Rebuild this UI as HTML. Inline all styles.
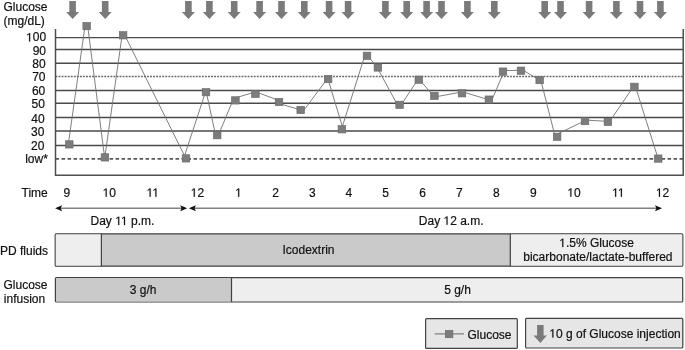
<!DOCTYPE html>
<html><head><meta charset="utf-8"><style>
html,body{margin:0;padding:0;background:#fff;width:685px;height:350px;overflow:hidden}
svg{display:block;-webkit-font-smoothing:antialiased;will-change:transform}
text{font-family:"Liberation Sans", sans-serif;font-size:12px;fill:#111;stroke:#111;stroke-width:0.2px}
.h{fill:none;stroke:none}
.g1{fill:#111;stroke:#111;stroke-width:34px}
</style></head><body>
<svg width="685" height="350" viewBox="0 0 685 350">
<line x1="55.5" y1="37.6" x2="683.2" y2="37.6" stroke="#4a4a4a" stroke-width="1.45"/>
<line x1="55.5" y1="49.5" x2="683.2" y2="49.5" stroke="#4a4a4a" stroke-width="1.45"/>
<line x1="55.5" y1="63.2" x2="683.2" y2="63.2" stroke="#4a4a4a" stroke-width="1.45"/>
<line x1="55.5" y1="76.5" x2="683.2" y2="76.5" stroke="#686868" stroke-width="1.3" stroke-dasharray="1.9 1.15"/>
<line x1="55.5" y1="90.5" x2="683.2" y2="90.5" stroke="#4a4a4a" stroke-width="1.45"/>
<line x1="55.5" y1="103.3" x2="683.2" y2="103.3" stroke="#4a4a4a" stroke-width="1.45"/>
<line x1="55.5" y1="117.5" x2="683.2" y2="117.5" stroke="#4a4a4a" stroke-width="1.45"/>
<line x1="55.5" y1="130.9" x2="683.2" y2="130.9" stroke="#4a4a4a" stroke-width="1.45"/>
<line x1="55.5" y1="145.4" x2="683.2" y2="145.4" stroke="#4a4a4a" stroke-width="1.45"/>
<line x1="55.5" y1="158.9" x2="683.2" y2="158.9" stroke="#5a5a5a" stroke-width="1.8" stroke-dasharray="3.6 2.4"/>
<path d="M55.5 29 V175.3 H683.2 V29" fill="none" stroke="#4e4e4e" stroke-width="1.5"/>
<text x="46.1" y="41.4" text-anchor="end"><tspan class="h">1</tspan>00</text>
<path class="g1" transform="translate(26.069 41.400) scale(0.005859 -0.005859)" d="M515 0V1237L197 1010V1180L530 1409H696V0Z"/>
<text x="46.0" y="54.6" text-anchor="end">90</text>
<text x="45.7" y="68.4" text-anchor="end">80</text>
<text x="45.5" y="81.2" text-anchor="end">70</text>
<text x="45.3" y="94.5" text-anchor="end">60</text>
<text x="44.9" y="108.2" text-anchor="end">50</text>
<text x="44.6" y="122.6" text-anchor="end">40</text>
<text x="44.4" y="135.5" text-anchor="end">30</text>
<text x="44.4" y="149.6" text-anchor="end">20</text>
<text x="25.2" y="163.0">low*</text>
<path fill="none" stroke="#707070" stroke-width="0.9" d="M85.0 26.1L68.3 144.4 M87.7 26.1L104.6 157.4 M104.8 157.4L122.1 35.3 M124.8 35.3L185.8 158.4 M183.7 158.4L205.4 92.3 M206.3 92.2L215.6 135.2 M218.4 135.2L232.8 100.5 M235.4 97.9L255.4 91.9 M255.4 91.8L279 100.4 M279 103.6L300.7 109.9 M304 110L327.1 79.1 M328 79.1L343.2 129.3 M341.5 129.3L364.7 55.9 M367.9 55.8L377.1 67.5 M377.2 67.5L397.4 104.8 M401.2 104.8L417.8 79.7 M419.6 79.7L433.4 95.9 M434.4 97L462 92 M462 91.7L489 99.8 M491.9 100L504 71.5 M503 70.6L520.8 70.3 M521 69L539.7 80.1 M540.8 80.1L555.2 136.8 M557.1 134.1L585 120.7 M585 120L607.9 121.4 M609.3 121.9L633.3 86.8 M635.5 86.8L658.1 158.6"/>
<rect x="65.50" y="140.75" width="7.6" height="7.3" fill="#7c7c7c" stroke="#666" stroke-width="0.6"/>
<rect x="82.90" y="22.45" width="7.6" height="7.3" fill="#7c7c7c" stroke="#666" stroke-width="0.6"/>
<rect x="101.10" y="153.75" width="7.6" height="7.3" fill="#7c7c7c" stroke="#666" stroke-width="0.6"/>
<rect x="119.30" y="31.65" width="7.6" height="7.3" fill="#7c7c7c" stroke="#666" stroke-width="0.6"/>
<rect x="182.20" y="154.75" width="7.6" height="7.3" fill="#7c7c7c" stroke="#666" stroke-width="0.6"/>
<rect x="202.20" y="88.55" width="7.6" height="7.3" fill="#7c7c7c" stroke="#666" stroke-width="0.6"/>
<rect x="213.40" y="131.55" width="7.6" height="7.3" fill="#7c7c7c" stroke="#666" stroke-width="0.6"/>
<rect x="231.60" y="96.75" width="7.6" height="7.3" fill="#7c7c7c" stroke="#666" stroke-width="0.6"/>
<rect x="251.60" y="90.25" width="7.6" height="7.3" fill="#7c7c7c" stroke="#666" stroke-width="0.6"/>
<rect x="275.20" y="98.35" width="7.6" height="7.3" fill="#7c7c7c" stroke="#666" stroke-width="0.6"/>
<rect x="296.90" y="106.35" width="7.6" height="7.3" fill="#7c7c7c" stroke="#666" stroke-width="0.6"/>
<rect x="324.30" y="75.45" width="7.6" height="7.3" fill="#7c7c7c" stroke="#666" stroke-width="0.6"/>
<rect x="338.10" y="125.65" width="7.6" height="7.3" fill="#7c7c7c" stroke="#666" stroke-width="0.6"/>
<rect x="363.20" y="52.15" width="7.6" height="7.3" fill="#7c7c7c" stroke="#666" stroke-width="0.6"/>
<rect x="374.10" y="63.85" width="7.6" height="7.3" fill="#7c7c7c" stroke="#666" stroke-width="0.6"/>
<rect x="395.80" y="101.15" width="7.6" height="7.3" fill="#7c7c7c" stroke="#666" stroke-width="0.6"/>
<rect x="415.00" y="76.05" width="7.6" height="7.3" fill="#7c7c7c" stroke="#666" stroke-width="0.6"/>
<rect x="430.60" y="92.25" width="7.6" height="7.3" fill="#7c7c7c" stroke="#666" stroke-width="0.6"/>
<rect x="458.20" y="89.65" width="7.6" height="7.3" fill="#7c7c7c" stroke="#666" stroke-width="0.6"/>
<rect x="485.10" y="95.95" width="7.6" height="7.3" fill="#7c7c7c" stroke="#666" stroke-width="0.6"/>
<rect x="499.20" y="67.95" width="7.6" height="7.3" fill="#7c7c7c" stroke="#666" stroke-width="0.6"/>
<rect x="517.20" y="67.05" width="7.6" height="7.3" fill="#7c7c7c" stroke="#666" stroke-width="0.6"/>
<rect x="535.90" y="76.45" width="7.6" height="7.3" fill="#7c7c7c" stroke="#666" stroke-width="0.6"/>
<rect x="553.30" y="133.15" width="7.6" height="7.3" fill="#7c7c7c" stroke="#666" stroke-width="0.6"/>
<rect x="581.20" y="117.45" width="7.6" height="7.3" fill="#7c7c7c" stroke="#666" stroke-width="0.6"/>
<rect x="604.10" y="118.25" width="7.6" height="7.3" fill="#7c7c7c" stroke="#666" stroke-width="0.6"/>
<rect x="630.60" y="83.15" width="7.6" height="7.3" fill="#7c7c7c" stroke="#666" stroke-width="0.6"/>
<rect x="654.40" y="154.95" width="7.6" height="7.3" fill="#7c7c7c" stroke="#666" stroke-width="0.6"/>
<path d="M69.30 1 H75.90 V12 H79.10 L72.60 19 L66.10 12 H69.30 Z" fill="#7a7a7a"/>
<path d="M101.90 1 H108.50 V12 H111.70 L105.20 19 L98.70 12 H101.90 Z" fill="#7a7a7a"/>
<path d="M185.10 1 H191.70 V12 H194.90 L188.40 19 L181.90 12 H185.10 Z" fill="#7a7a7a"/>
<path d="M206.10 1 H212.70 V12 H215.90 L209.40 19 L202.90 12 H206.10 Z" fill="#7a7a7a"/>
<path d="M230.90 1 H237.50 V12 H240.70 L234.20 19 L227.70 12 H230.90 Z" fill="#7a7a7a"/>
<path d="M256.30 1 H262.90 V12 H266.10 L259.60 19 L253.10 12 H256.30 Z" fill="#7a7a7a"/>
<path d="M278.20 1 H284.80 V12 H288.00 L281.50 19 L275.00 12 H278.20 Z" fill="#7a7a7a"/>
<path d="M301.00 1 H307.60 V12 H310.80 L304.30 19 L297.80 12 H301.00 Z" fill="#7a7a7a"/>
<path d="M325.80 1 H332.40 V12 H335.60 L329.10 19 L322.60 12 H325.80 Z" fill="#7a7a7a"/>
<path d="M344.80 1 H351.40 V12 H354.60 L348.10 19 L341.60 12 H344.80 Z" fill="#7a7a7a"/>
<path d="M382.10 1 H388.70 V12 H391.90 L385.40 19 L378.90 12 H382.10 Z" fill="#7a7a7a"/>
<path d="M403.40 1 H410.00 V12 H413.20 L406.70 19 L400.20 12 H403.40 Z" fill="#7a7a7a"/>
<path d="M423.30 1 H429.90 V12 H433.10 L426.60 19 L420.10 12 H423.30 Z" fill="#7a7a7a"/>
<path d="M438.20 1 H444.80 V12 H448.00 L441.50 19 L435.00 12 H438.20 Z" fill="#7a7a7a"/>
<path d="M464.10 1 H470.70 V12 H473.90 L467.40 19 L460.90 12 H464.10 Z" fill="#7a7a7a"/>
<path d="M491.00 1 H497.60 V12 H500.80 L494.30 19 L487.80 12 H491.00 Z" fill="#7a7a7a"/>
<path d="M541.40 1 H548.00 V12 H551.20 L544.70 19 L538.20 12 H541.40 Z" fill="#7a7a7a"/>
<path d="M557.20 1 H563.80 V12 H567.00 L560.50 19 L554.00 12 H557.20 Z" fill="#7a7a7a"/>
<path d="M585.80 1 H592.40 V12 H595.60 L589.10 19 L582.60 12 H585.80 Z" fill="#7a7a7a"/>
<path d="M613.10 1 H619.70 V12 H622.90 L616.40 19 L609.90 12 H613.10 Z" fill="#7a7a7a"/>
<path d="M636.70 1 H643.30 V12 H646.50 L640.00 19 L633.50 12 H636.70 Z" fill="#7a7a7a"/>
<path d="M657.10 1 H663.70 V12 H666.90 L660.40 19 L653.90 12 H657.10 Z" fill="#7a7a7a"/>
<text x="3.5" y="11.4">Glucose</text>
<text x="3.5" y="25.4">(mg/dL)</text>
<text x="21.5" y="196.8">Time</text>
<text x="66.9" y="196.8" text-anchor="middle">9</text>
<text x="109.3" y="196.8" text-anchor="middle"><tspan class="h">1</tspan>0</text>
<path class="g1" transform="translate(102.620 196.800) scale(0.005859 -0.005859)" d="M515 0V1237L197 1010V1180L530 1409H696V0Z"/>
<text x="152.8" y="196.8" text-anchor="middle"><tspan class="h">1</tspan><tspan class="h">1</tspan></text>
<path class="g1" transform="translate(146.566 196.800) scale(0.005859 -0.005859)" d="M515 0V1237L197 1010V1180L530 1409H696V0Z"/>
<path class="g1" transform="translate(152.347 196.800) scale(0.005859 -0.005859)" d="M515 0V1237L197 1010V1180L530 1409H696V0Z"/>
<text x="197.4" y="196.8" text-anchor="middle"><tspan class="h">1</tspan>2</text>
<path class="g1" transform="translate(190.720 196.800) scale(0.005859 -0.005859)" d="M515 0V1237L197 1010V1180L530 1409H696V0Z"/>
<text x="238.5" y="196.8" text-anchor="middle"><tspan class="h">1</tspan></text>
<path class="g1" transform="translate(235.156 196.800) scale(0.005859 -0.005859)" d="M515 0V1237L197 1010V1180L530 1409H696V0Z"/>
<text x="275.5" y="196.8" text-anchor="middle">2</text>
<text x="312.3" y="196.8" text-anchor="middle">3</text>
<text x="348.8" y="196.8" text-anchor="middle">4</text>
<text x="385.5" y="196.8" text-anchor="middle">5</text>
<text x="422.5" y="196.8" text-anchor="middle">6</text>
<text x="459.3" y="196.8" text-anchor="middle">7</text>
<text x="496.4" y="196.8" text-anchor="middle">8</text>
<text x="533.4" y="196.8" text-anchor="middle">9</text>
<text x="574" y="196.8" text-anchor="middle"><tspan class="h">1</tspan>0</text>
<path class="g1" transform="translate(567.320 196.800) scale(0.005859 -0.005859)" d="M515 0V1237L197 1010V1180L530 1409H696V0Z"/>
<text x="618.3" y="196.8" text-anchor="middle"><tspan class="h">1</tspan><tspan class="h">1</tspan></text>
<path class="g1" transform="translate(612.066 196.800) scale(0.005859 -0.005859)" d="M515 0V1237L197 1010V1180L530 1409H696V0Z"/>
<path class="g1" transform="translate(617.847 196.800) scale(0.005859 -0.005859)" d="M515 0V1237L197 1010V1180L530 1409H696V0Z"/>
<text x="662.6" y="196.8" text-anchor="middle"><tspan class="h">1</tspan>2</text>
<path class="g1" transform="translate(655.920 196.800) scale(0.005859 -0.005859)" d="M515 0V1237L197 1010V1180L530 1409H696V0Z"/>
<line x1="57" y1="208.3" x2="185" y2="208.3" stroke="#808080" stroke-width="1.5"/>
<path d="M55.1 208.3 L62.1 205.35000000000002 L60.7 208.3 L62.1 211.25 Z" fill="#111"/>
<path d="M187.2 208.3 L180.2 205.35000000000002 L181.6 208.3 L180.2 211.25 Z" fill="#111"/>
<line x1="191" y1="208.3" x2="660" y2="208.3" stroke="#808080" stroke-width="1.5"/>
<path d="M188.9 208.3 L195.9 205.35000000000002 L194.5 208.3 L195.9 211.25 Z" fill="#111"/>
<path d="M662 208.3 L655 205.35000000000002 L656.4 208.3 L655 211.25 Z" fill="#111"/>
<text x="90.5" y="225">Day <tspan class="h">1</tspan><tspan class="h">1</tspan> p.m.</text>
<path class="g1" transform="translate(115.172 225.000) scale(0.005859 -0.005859)" d="M515 0V1237L197 1010V1180L530 1409H696V0Z"/>
<path class="g1" transform="translate(120.953 225.000) scale(0.005859 -0.005859)" d="M515 0V1237L197 1010V1180L530 1409H696V0Z"/>
<text x="418.8" y="224.8">Day <tspan class="h">1</tspan>2 a.m.</text>
<path class="g1" transform="translate(443.472 224.800) scale(0.005859 -0.005859)" d="M515 0V1237L197 1010V1180L530 1409H696V0Z"/>
<rect x="55.2" y="233.8" width="627.6" height="32.4" rx="1" fill="#cacaca" stroke="#424242" stroke-width="1.2"/>
<rect x="55.8" y="234.4" width="45.6" height="31.2" fill="#eeeeee"/>
<rect x="510.3" y="234.4" width="171.9" height="31.2" fill="#eeeeee"/>
<line x1="101.4" y1="233.8" x2="101.4" y2="266.2" stroke="#424242" stroke-width="1.2"/>
<line x1="510.3" y1="233.8" x2="510.3" y2="266.2" stroke="#424242" stroke-width="1.2"/>
<text x="0" y="254.6">PD fluids</text>
<text x="308.5" y="254.3" text-anchor="middle">Icodextrin</text>
<text x="596.6" y="247.1" text-anchor="middle"><tspan class="h">1</tspan>.5% Glucose</text>
<path class="g1" transform="translate(559.241 247.100) scale(0.005859 -0.005859)" d="M515 0V1237L197 1010V1180L530 1409H696V0Z"/>
<text x="597.9" y="261" text-anchor="middle">bicarbonate/lactate-buffered</text>
<rect x="55.4" y="277.7" width="627.3" height="24.3" rx="1" fill="#eeeeee" stroke="#424242" stroke-width="1.2"/>
<rect x="56" y="278.3" width="175.5" height="23.1" fill="#cacaca"/>
<line x1="231.5" y1="277.7" x2="231.5" y2="302" stroke="#424242" stroke-width="1.2"/>
<text x="25.5" y="288.5" text-anchor="middle">Glucose</text>
<text x="24.5" y="302.9" text-anchor="middle">infusion</text>
<text x="143.2" y="294.4" text-anchor="middle">3 g/h</text>
<text x="457.5" y="294.4" text-anchor="middle">5 g/h</text>
<rect x="425.6" y="318.6" width="91.7" height="29.8" rx="1" fill="#e6e6e6" stroke="#424242" stroke-width="1.2"/>
<line x1="434.6" y1="333.9" x2="464" y2="333.9" stroke="#6a6a6a" stroke-width="1"/>
<rect x="445.30" y="330.45" width="7.6" height="7.3" fill="#7c7c7c" stroke="#666" stroke-width="0.6"/>
<text x="467.5" y="338.5">Glucose</text>
<rect x="525.6" y="318.4" width="157.2" height="29.6" rx="1" fill="#e6e6e6" stroke="#424242" stroke-width="1.2"/>
<path d="M537.1 324.9 H543.6 V335.4 H546.9 L540.4 343.1 L533.5 335.4 H537.1 Z" fill="#7a7a7a"/>
<text x="549.3" y="337.6"><tspan class="h">1</tspan>0 g of Glucose injection</text>
<path class="g1" transform="translate(549.300 337.600) scale(0.005859 -0.005859)" d="M515 0V1237L197 1010V1180L530 1409H696V0Z"/>
</svg>
</body></html>
